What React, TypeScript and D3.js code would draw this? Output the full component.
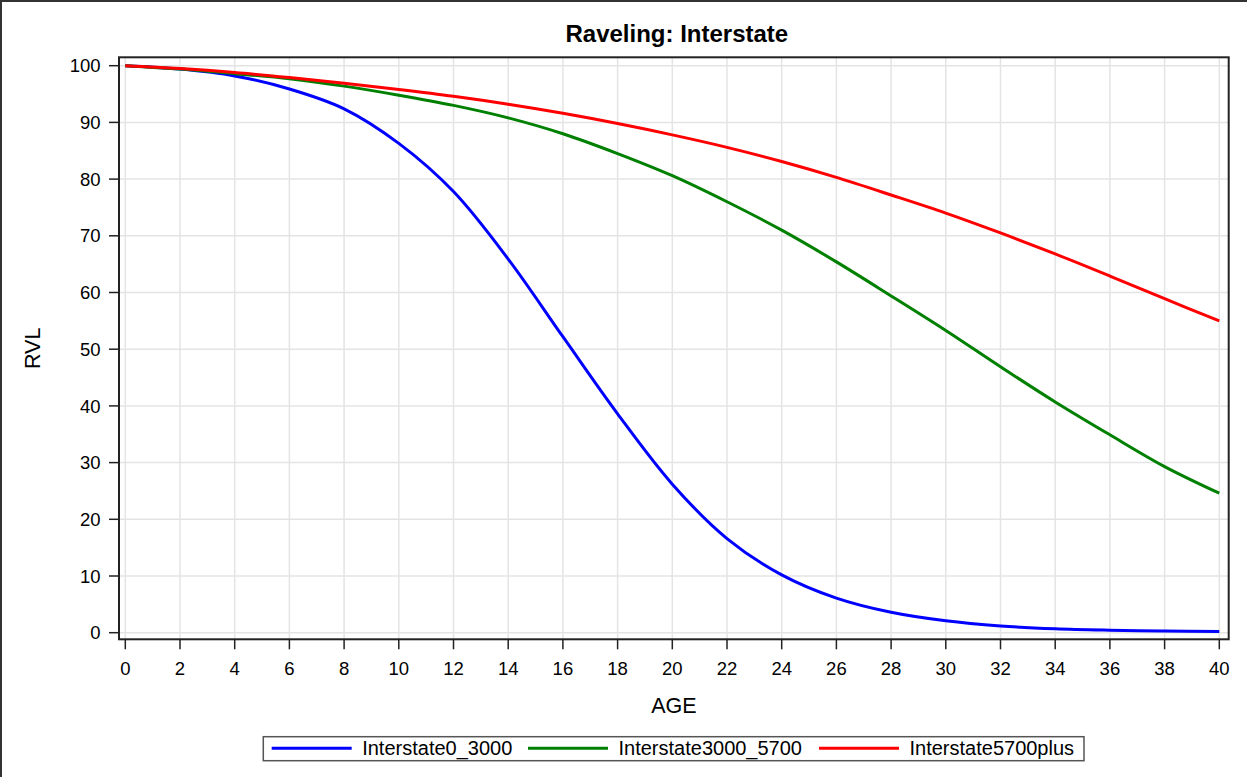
import { useEffect, useRef } from "react";
import * as d3 from "d3";

// Age (years) at which each curve was read
const ages = [0, 2, 4, 6, 8, 10, 12, 14, 16, 18, 20, 22, 24, 26, 28, 30, 32, 34, 36, 38, 40];

const interstate0_3000 = [100, 99.4, 98.2, 95.9, 92.4, 86.3, 77.8, 65.9, 52.2, 38.6, 26.2, 16.6, 10.2, 6.1, 3.6, 2.1, 1.2, 0.7, 0.45, 0.3, 0.2];
const interstate3000_5700 = [100, 99.4, 98.6, 97.7, 96.4, 94.8, 93.0, 90.8, 88.0, 84.5, 80.6, 76.0, 71.0, 65.4, 59.4, 53.3, 46.9, 40.7, 34.9, 29.3, 24.6];
const interstate5700plus = [100, 99.5, 98.8, 97.9, 96.9, 95.8, 94.6, 93.2, 91.6, 89.8, 87.8, 85.6, 83.1, 80.3, 77.2, 74.0, 70.5, 66.8, 62.9, 58.9, 55.0];

const seriesNames = ["Interstate0_3000", "Interstate3000_5700", "Interstate5700plus"];
const seriesColors = ["#0000FF", "#008000", "#FF0000"];

const xTicks = d3.range(0, 41, 2);
const yTicks = d3.range(0, 101, 10);

const W = 1247;
const H = 777;
const FONT = "'Liberation Sans', Arial, sans-serif";

export default function App() {
  const svgRef = useRef<SVGSVGElement>(null);

  useEffect(() => {
    document.body.style.margin = "0";
    if (!svgRef.current) return;
    const svg = d3.select(svgRef.current);
    svg.selectAll("*").remove();

    const x = d3.scaleLinear().domain([0, 40]).range([125.3, 1219.3]);
    const y = d3.scaleLinear().domain([0, 100]).range([632.7, 65.7]);

    // plot frame bounds
    const fx0 = 119, fx1 = 1228.7, fy0 = 57.3, fy1 = 639.3;

    svg.append("rect").attr("width", W).attr("height", H).attr("fill", "white");

    // outer border (top + left visible)
    svg.append("path")
      .attr("d", `M1,${H} L1,1 L${W},1`)
      .attr("fill", "none")
      .attr("stroke", "#333")
      .attr("stroke-width", 2);

    // title
    svg.append("text")
      .attr("x", (fx0 + fx1) / 2 + 3)
      .attr("y", 42.3)
      .attr("text-anchor", "middle")
      .style("font-family", FONT)
      .style("font-size", "24px")
      .style("font-weight", "bold")
      .text("Raveling: Interstate");

    // grid
    const grid = svg.append("g").attr("stroke", "#e4e4e4").attr("stroke-width", 1.5);
    grid.selectAll("line.v")
      .data(xTicks)
      .join("line")
      .attr("x1", d => x(d)).attr("x2", d => x(d))
      .attr("y1", fy0).attr("y2", fy1);
    grid.selectAll("line.h")
      .data(yTicks)
      .join("line")
      .attr("class", "h")
      .attr("x1", fx0).attr("x2", fx1)
      .attr("y1", d => y(d)).attr("y2", d => y(d));

    // curves
    const allSeries = [interstate0_3000, interstate3000_5700, interstate5700plus];
    const line = d3.line<number>()
      .x((_, i) => x(ages[i]))
      .y(d => y(d))
      .curve(d3.curveCatmullRom.alpha(0.5));

    svg.append("g")
      .selectAll("path")
      .data(allSeries)
      .join("path")
      .attr("d", d => line(d))
      .attr("fill", "none")
      .attr("stroke", (_, i) => seriesColors[i])
      .attr("stroke-width", 3)
      .attr("stroke-linejoin", "round");

    // frame
    svg.append("rect")
      .attr("x", fx0).attr("y", fy0)
      .attr("width", fx1 - fx0).attr("height", fy1 - fy0)
      .attr("fill", "none")
      .attr("stroke", "#222")
      .attr("stroke-width", 2);

    // x axis ticks + labels
    const xa = svg.append("g");
    xa.selectAll("line")
      .data(xTicks)
      .join("line")
      .attr("x1", d => x(d)).attr("x2", d => x(d))
      .attr("y1", fy1).attr("y2", fy1 + 10)
      .attr("stroke", "#222").attr("stroke-width", 1.5);
    xa.selectAll("text")
      .data(xTicks)
      .join("text")
      .attr("x", d => x(d))
      .attr("y", 675)
      .attr("text-anchor", "middle")
      .style("font-family", FONT)
      .style("font-size", "18.5px")
      .text(d => d);

    // y axis ticks + labels
    const ya = svg.append("g");
    ya.selectAll("line")
      .data(yTicks)
      .join("line")
      .attr("x1", fx0 - 10).attr("x2", fx0)
      .attr("y1", d => y(d)).attr("y2", d => y(d))
      .attr("stroke", "#222").attr("stroke-width", 1.5);
    ya.selectAll("text")
      .data(yTicks)
      .join("text")
      .attr("x", 100.5)
      .attr("y", d => y(d) + 6.6)
      .attr("text-anchor", "end")
      .style("font-family", FONT)
      .style("font-size", "18.5px")
      .text(d => d);

    // axis labels
    svg.append("text")
      .attr("x", (fx0 + fx1) / 2)
      .attr("y", 712.5)
      .attr("text-anchor", "middle")
      .style("font-family", FONT)
      .style("font-size", "21.5px")
      .text("AGE");
    svg.append("text")
      .attr("transform", `translate(40.3, ${(fy0 + fy1) / 2}) rotate(-90)`)
      .attr("text-anchor", "middle")
      .style("font-family", FONT)
      .style("font-size", "21.5px")
      .text("RVL");

    // legend
    const lg = svg.append("g");
    lg.append("rect")
      .attr("x", 263.3).attr("y", 736.7)
      .attr("width", 1084 - 263.3).attr("height", 24)
      .attr("fill", "white")
      .attr("stroke", "#555")
      .attr("stroke-width", 1.5);
    const lineStarts = [271.7, 528, 819];
    seriesNames.forEach((name, i) => {
      const sx = lineStarts[i];
      lg.append("line")
        .attr("x1", sx).attr("x2", sx + 80)
        .attr("y1", 748.3).attr("y2", 748.3)
        .attr("stroke", seriesColors[i])
        .attr("stroke-width", 3);
      lg.append("text")
        .attr("x", sx + 90.5)
        .attr("y", 755.3)
        .style("font-family", FONT)
        .style("font-size", "20px")
        .text(name);
    });
  }, []);

  return (
    <svg
      ref={svgRef}
      width={W}
      height={H}
      viewBox={`0 0 ${W} ${H}`}
      style={{ display: "block" }}
    />
  );
}
